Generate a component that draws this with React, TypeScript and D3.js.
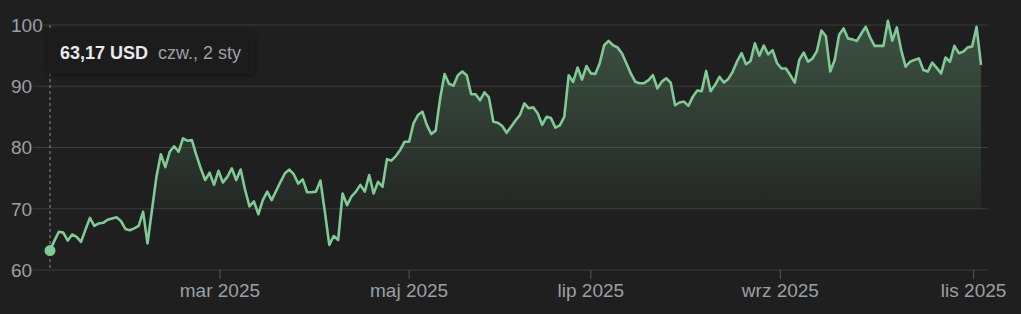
import React from "react";
import * as d3 from "d3";

// Daily closing prices (USD), by month, 2025
const pricesJan = [63.17, 64.8, 66.25, 66.1, 64.8, 65.8, 65.4, 64.6, 66.6, 68.5, 67.2, 67.6, 67.7, 68.2, 68.4, 68.6, 68.0, 66.7, 66.5, 66.8];
const pricesFeb = [67.2, 69.5, 64.35, 69.8, 75.2, 78.9, 76.8, 79.3, 80.2, 79.3, 81.5, 81.1, 81.2, 78.8, 76.6, 74.7, 75.9, 73.9, 76.2];
const pricesMar = [74.3, 75.2, 76.6, 74.7, 76.4, 73.1, 70.4, 71.2, 69.1, 71.4, 72.8, 71.4, 72.9, 74.4, 75.8, 76.4, 75.6, 74.1, 74.8, 72.7, 72.7];
const pricesApr = [72.8, 74.6, 69.5, 64.1, 65.55, 64.9, 72.5, 70.6, 72.0, 72.8, 73.9, 72.8, 75.5, 72.5, 74.4, 73.6, 78.1, 77.85, 78.6, 79.6, 80.95];
const pricesMay = [80.95, 83.95, 85.3, 85.85, 83.7, 82.2, 82.75, 88.0, 92.0, 90.4, 90.1, 91.8, 92.4, 91.8, 88.7, 88.7, 87.7, 89.0, 88.2, 84.2, 84.05];
const pricesJun = [83.5, 82.4, 83.4, 84.4, 85.3, 87.2, 86.4, 86.55, 85.6, 83.7, 85.0, 84.8, 83.25, 83.6, 85.0, 91.8, 90.7, 93.05, 91.1, 93.3];
const pricesJul = [92.1, 92.0, 93.75, 96.7, 97.4, 96.7, 96.35, 95.4, 93.75, 92.1, 90.75, 90.5, 90.5, 91.0, 91.8, 89.65, 90.75, 91.3, 90.6, 86.9, 87.35, 87.5];
const pricesAug = [86.8, 88.3, 89.3, 89.2, 92.5, 89.2, 90.2, 91.55, 90.6, 91.2, 92.4, 94.1, 95.4, 93.6, 94.1, 97.0, 95.0, 96.65, 95.2, 95.9, 93.75];
const pricesSep = [92.9, 92.9, 91.8, 90.6, 94.3, 95.5, 94.0, 94.55, 95.75, 99.1, 98.2, 92.4, 94.3, 98.4, 99.45, 97.8, 97.65, 97.4, 98.6, 99.7, 97.95];
const pricesOct = [96.6, 96.6, 96.6, 100.7, 97.45, 99.6, 95.9, 93.2, 94.0, 94.3, 94.55, 92.65, 92.4, 93.85, 93.0, 92.1, 94.7, 94.0, 96.6, 95.4, 95.65, 96.35, 96.5];
const pricesNov = [99.7, 93.5];

const yTicks = [60, 70, 80, 90, 100];
const xTickLabels = ["mar 2025", "maj 2025", "lip 2025", "wrz 2025", "lis 2025"];
// position of the 1st of each month, in trading-day index units
const xTickIndex = [38.33, 81, 122, 164.75, 208.33];

const tooltipPrice = "63,17 USD";
const tooltipDate = "czw., 2 sty";

const prices = [
  ...pricesJan, ...pricesFeb, ...pricesMar, ...pricesApr, ...pricesMay, ...pricesJun,
  ...pricesJul, ...pricesAug, ...pricesSep, ...pricesOct, ...pricesNov,
];

const W = 1021;
const H = 314;
const FONT = "'Liberation Sans', Arial, sans-serif";
const BG = "#1f1f1f";
const GREEN = "#81c995";
const LABEL = "#9aa0a6";
const GRID = "#3c3c3c";

export default function App() {
  React.useEffect(() => {
    document.body.style.margin = "0";
    document.body.style.background = BG;
  }, []);

  const x = d3.scaleLinear().domain([0, prices.length - 1]).range([50, 981]);
  const y = d3.scaleLinear().domain([60, 100]).range([270, 25]);

  const line = d3
    .line<number>()
    .x((_, i) => x(i))
    .y((d) => y(d));
  const area = d3
    .area<number>()
    .x((_, i) => x(i))
    .y0(y(60))
    .y1((d) => y(d));

  const cutY = y(70);

  return (
    <svg width={W} height={H} style={{ display: "block", background: BG }} fontFamily={FONT}>
      <defs>
        <linearGradient id="fillGrad" gradientUnits="userSpaceOnUse" x1="0" y1={y(100)} x2="0" y2={y(60)}>
          <stop offset="0" stopColor={GREEN} stopOpacity={0.3} />
          <stop offset={(cutY - y(100)) / (y(60) - y(100))} stopColor={GREEN} stopOpacity={0.05} />
          <stop offset={(cutY - y(100) + 0.5) / (y(60) - y(100))} stopColor={GREEN} stopOpacity={0} />
          <stop offset="1" stopColor={GREEN} stopOpacity={0} />
        </linearGradient>
        <filter id="shadow" x="-10%" y="-30%" width="120%" height="160%">
          <feDropShadow dx="0" dy="1" stdDeviation="2" floodColor="#000" floodOpacity="0.5" />
        </filter>
      </defs>

      {/* gridlines */}
      {yTicks.map((t) => (
        <line key={"g" + t} x1={33} x2={988} y1={y(t)} y2={y(t)} stroke={GRID} strokeWidth={1.2} />
      ))}

      {/* x ticks */}
      {xTickIndex.map((v, k) => (
        <g key={"xt" + k}>
          <line x1={x(v)} x2={x(v)} y1={y(60)} y2={y(60) + 9} stroke="#555" strokeWidth={1} />
          <text x={x(v)} y={297} textAnchor="middle" fill={LABEL} fontSize={19}>
            {xTickLabels[k]}
          </text>
        </g>
      ))}

      {/* area + line */}
      <path d={area(prices) || ""} fill="url(#fillGrad)" />
      <path d={line(prices) || ""} fill="none" stroke={GREEN} strokeWidth={2.6} strokeLinejoin="round" />

      {/* y labels */}
      {yTicks.map((t) => {
        const s = String(t);
        return (
          <g key={"yl" + t}>
            <rect x={6} y={y(t) - 9} width={s.length * 10.5 + 6} height={18} fill={BG} />
            <text x={11} y={y(t)} dy="0.36em" fill={LABEL} fontSize={19}>
              {s}
            </text>
          </g>
        );
      })}

      {/* hover marker */}
      <line x1={x(0)} x2={x(0)} y1={y(100)} y2={268} stroke="#8a8f94" strokeWidth={1} strokeDasharray="3,3" />
      <circle cx={x(0)} cy={y(prices[0])} r={5.5} fill={GREEN} />

      {/* tooltip */}
      <rect x={47} y={31} width={208} height={43} rx={4} fill="#1b1b1b" filter="url(#shadow)" />
      <text x={60} y={59} fill="#e8eaed" fontSize={18} fontWeight="bold">
        {tooltipPrice}
      </text>
      <text x={158} y={59} fill={LABEL} fontSize={18}>
        {tooltipDate}
      </text>
    </svg>
  );
}
